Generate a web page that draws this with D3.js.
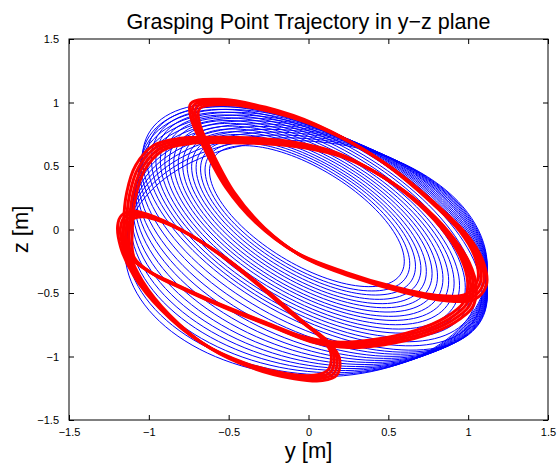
<!DOCTYPE html>
<html><head><meta charset="utf-8">
<script src="https://cdn.jsdelivr.net/npm/d3@7"></script>
<style>body{margin:0;background:#fff}svg{display:block}text{font-family:"Liberation Sans",Arial,Helvetica,sans-serif}</style>
</head><body><svg id="c" width="560" height="463"></svg>
<script>
const title = "Grasping Point Trajectory in y\u2212z plane";
const xLabel = "y [m]";
const yLabel = "z [m]";
const yTicks = [-1.5, -1, -0.5, 0, 0.5, 1, 1.5];
const zTicks = [-1.5, -1, -0.5, 0, 0.5, 1, 1.5];

// blue transient loops: y = cy + ay*cos t, z = cz + bz*cos(t - phase)
const blueCy = [-0.010,-0.007,-0.003,0.000,0.003,0.007,0.010,0.013,0.017,0.020,0.023,0.027,0.030,0.033,0.037,0.040,0.036,0.032,0.027,0.023,0.019,0.015,0.010,0.006,0.002,-0.002,-0.007,-0.011,-0.015];
const blueAy = [0.610,0.641,0.673,0.704,0.735,0.767,0.798,0.829,0.861,0.892,0.923,0.955,0.986,1.017,1.049,1.080,1.084,1.088,1.093,1.097,1.101,1.105,1.110,1.114,1.118,1.122,1.127,1.131,1.135];
const blueCz = [0.105,0.099,0.094,0.088,0.082,0.077,0.071,0.065,0.060,0.054,0.048,0.043,0.037,0.031,0.026,0.020,0.001,-0.018,-0.038,-0.057,-0.076,-0.095,-0.115,-0.134,-0.153,-0.172,-0.192,-0.211,-0.230];
const blueBz = [0.555,0.583,0.610,0.638,0.666,0.693,0.721,0.749,0.776,0.804,0.832,0.859,0.887,0.915,0.942,0.970,0.967,0.964,0.961,0.958,0.955,0.952,0.948,0.945,0.942,0.939,0.936,0.933,0.930];
const bluePhase = [129.7,129.3,128.9,128.6,128.2,127.8,127.4,127.0,126.7,126.3,125.9,125.5,125.1,124.8,124.4,124.0,121.7,119.4,117.1,114.8,112.5,110.1,107.8,105.5,103.2,100.9,98.6,96.3,94.0];

// red steady loops (y, z)
const redLoopA = [[-0.710,0.972],[-0.523,1.004],[-0.241,0.941],[0.072,0.807],[0.448,0.547],[0.761,0.232],[0.980,-0.043],[1.074,-0.256],[1.086,-0.421],[1.011,-0.531],[0.823,-0.539],[0.573,-0.476],[0.260,-0.358],[-0.053,-0.201],[-0.304,0.035],[-0.491,0.311],[-0.629,0.626],[-0.710,0.862]];
const redLoopC = [[-1.118,-0.201],[-1.130,0.035],[-1.111,0.272],[-1.055,0.484],[-0.942,0.642],[-0.773,0.697],[-0.554,0.705],[-0.304,0.697],[-0.053,0.665],[0.197,0.587],[0.448,0.429],[0.667,0.232],[0.855,-0.004],[0.980,-0.240],[1.024,-0.437],[0.999,-0.594],[0.886,-0.713],[0.698,-0.815],[0.448,-0.886],[0.229,-0.909],[0.009,-0.870],[-0.241,-0.752],[-0.554,-0.594],[-0.805,-0.453],[-0.992,-0.335]];
const redLoopB = [[-1.168,0.012],[-1.143,0.091],[-1.068,0.122],[-0.930,0.075],[-0.742,-0.043],[-0.523,-0.224],[-0.272,-0.476],[-0.053,-0.713],[0.103,-0.870],[0.166,-0.988],[0.153,-1.122],[0.060,-1.169],[-0.116,-1.154],[-0.366,-1.075],[-0.648,-0.909],[-0.898,-0.650],[-1.068,-0.382],[-1.149,-0.161]];
const redLapDy = [-0.027, -0.009, 0.009, 0.027];
const redLapDz = [0.021, 0.007, -0.007, -0.021];

const svg = d3.select("#c");
const L = 69, R = 548, T = 39, B = 420;
const x = d3.scaleLinear().domain([-1.5, 1.5]).range([L, R]);
const y = d3.scaleLinear().domain([-1.5, 1.5]).range([B, T]);

svg.append("clipPath").attr("id","cp").append("rect").attr("x",L).attr("y",T).attr("width",R-L).attr("height",B-T);
const plot = svg.append("g").attr("clip-path","url(#cp)");

const line = d3.line().x(d => x(d[0])).y(d => y(d[1]));
const tSteps = d3.range(0, 361, 3);
blueCy.forEach((cy, i) => {
  const ph = bluePhase[i] * Math.PI / 180;
  const pts = tSteps.map(a => { const t = a*Math.PI/180; return [cy + blueAy[i]*Math.cos(t), blueCz[i] + blueBz[i]*Math.cos(t - ph)]; });
  plot.append("path").attr("d", line(pts)).attr("fill","none").attr("stroke","#0000ff").attr("stroke-width",1);
});

const cl = d3.line().x(d => x(d[0])).y(d => y(d[1])).curve(d3.curveCatmullRomClosed.alpha(0.5));
[redLoopA, redLoopC, redLoopB].forEach(loop => {
  redLapDy.forEach((dy, j) => {
    const pts = loop.map(p => [p[0] + dy, p[1] + redLapDz[j]]);
    plot.append("path").attr("d", cl(pts)).attr("fill","none").attr("stroke","#ff0000").attr("stroke-width",3);
  });
});

const ax = svg.append("g");
const fmt = d => d3.format("")(d).replace("-", "\u2212");
const xb = d3.axisBottom(x).tickValues(yTicks).tickSize(-5).tickPadding(8).tickFormat(fmt);
const xt = d3.axisTop(x).tickValues(yTicks).tickSize(-5).tickFormat("");
const yl = d3.axisLeft(y).tickValues(zTicks).tickSize(-5).tickPadding(10).tickFormat(fmt);
const yr = d3.axisRight(y).tickValues(zTicks).tickSize(-5).tickFormat("");
function style(g){ g.select(".domain").remove(); g.selectAll(".tick line").attr("stroke","#000"); g.selectAll("text").attr("fill","#000").style("font-size","11px").style("font-family","'Liberation Sans',Arial,sans-serif"); }
ax.append("g").attr("transform",`translate(0,${B})`).call(xb).call(style);
ax.append("g").attr("transform",`translate(0,${T})`).call(xt).call(style);
ax.append("g").attr("transform",`translate(${L},0)`).call(yl).call(style);
ax.append("g").attr("transform",`translate(${R},0)`).call(yr).call(style);
svg.append("rect").attr("x",L).attr("y",T).attr("width",R-L).attr("height",B-T).attr("fill","none").attr("stroke","#000").attr("stroke-width",1);

svg.append("text").attr("x",(L+R)/2).attr("y",29).attr("text-anchor","middle").style("font-size","21.5px").text(title);
svg.append("text").attr("x",(L+R)/2).attr("y",458).attr("text-anchor","middle").style("font-size","22px").text(xLabel);
svg.append("text").attr("transform",`translate(28,${(T+B)/2}) rotate(-90)`).attr("text-anchor","middle").style("font-size","22px").text(yLabel);
</script></body></html>
